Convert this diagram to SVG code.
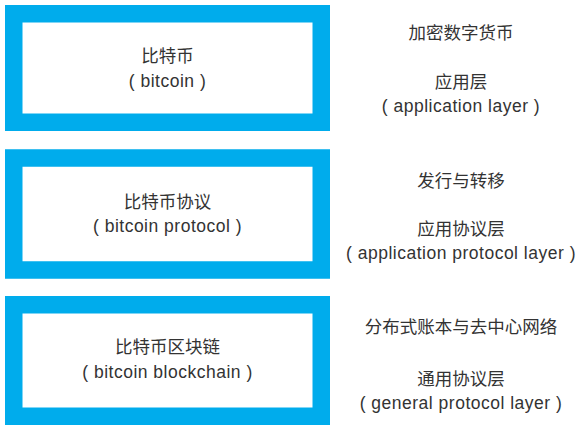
<svg xmlns="http://www.w3.org/2000/svg" width="585" height="431" viewBox="0 0 585 431">
<style>
.box{fill:#fff;stroke:#00acec;stroke-width:17.5}
text{font-family:"Liberation Sans","Noto Sans CJK SC",sans-serif;font-size:17.5px;fill:#333;text-anchor:middle}
.en{letter-spacing:0.5px}
</style>
<rect width="585" height="431" fill="#fff"/>
<g id="node-bitcoin">
<rect class="box" x="13.75" y="13.75" width="307.5" height="108.5"/>
<text x="167.5" y="62">比特币</text>
<text class="en" x="167.5" y="87">( bitcoin )</text>
</g>
<g id="node-protocol">
<rect class="box" x="13.75" y="158" width="307.5" height="112"/>
<text x="167.5" y="208">比特币协议</text>
<text class="en" x="167.5" y="232">( bitcoin protocol  )</text>
</g>
<g id="node-blockchain">
<rect class="box" x="13.75" y="304.75" width="307.5" height="111.5"/>
<text x="167.5" y="353">比特币区块链</text>
<text class="en" x="167.5" y="378">( bitcoin blockchain )</text>
</g>
<g id="label-app">
<text x="461" y="39">加密数字货币</text>
<text x="461" y="88">应用层</text>
<text class="en" x="461" y="112">( application layer )</text>
</g>
<g id="label-protocol">
<text x="461" y="187">发行与转移</text>
<text x="461" y="235">应用协议层</text>
<text class="en" x="461" y="259">( application protocol layer )</text>
</g>
<g id="label-general">
<text x="461" y="333">分布式账本与去中心网络</text>
<text x="461" y="385">通用协议层</text>
<text class="en" x="461" y="409">( general protocol layer )</text>
</g>
<g id="connectors"/>
</svg>
